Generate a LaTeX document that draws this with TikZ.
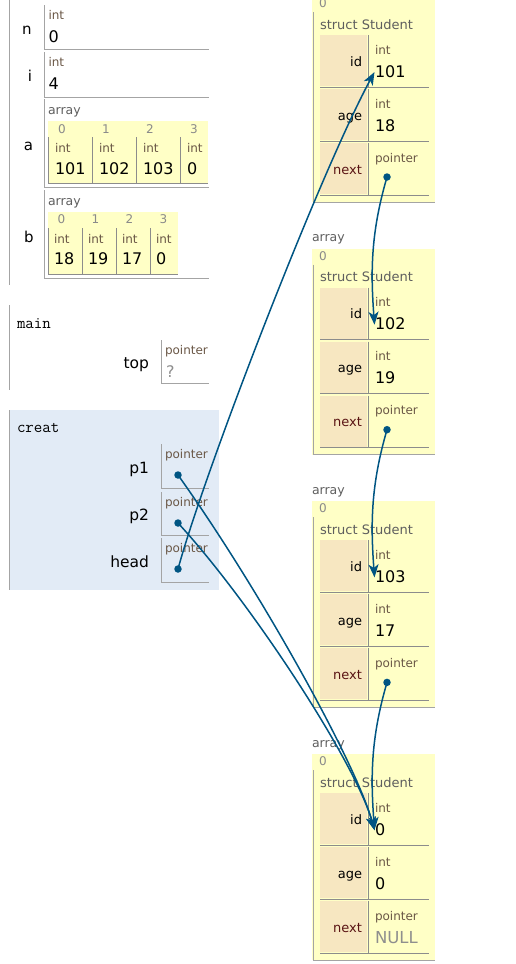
\documentclass[tikz,border=0pt]{standalone}
\usepackage{fontspec}
\setmainfont{DejaVu Sans}
\usetikzlibrary{arrows.meta}
\definecolor{ptrblue}{HTML}{005583}
\definecolor{heapyel}{HTML}{FFFFC6}
\definecolor{fieldtan}{HTML}{F7E7C1}
\definecolor{framebg}{HTML}{E2EBF6}
\definecolor{linegray}{HTML}{A4A4A4}
\definecolor{cellgray}{HTML}{8C8C8C}
\definecolor{typecol}{HTML}{6A5746}
\definecolor{labgray}{HTML}{5E5E5E}
\definecolor{idxcol}{HTML}{8A8A8A}
\definecolor{nextcol}{HTML}{5A1414}
\definecolor{nullgray}{HTML}{8E8E8E}
\tikzset{
  every node/.style={inner sep=0pt, outer sep=0pt},
  tlab/.style={anchor=base west, font=\fontsize{12}{14}\selectfont, text=typecol},
  arrlab/.style={anchor=base west, font=\fontsize{12.5}{14}\selectfont, text=labgray},
  val/.style={anchor=base west, font=\fontsize{16}{18}\selectfont},
  vname/.style={anchor=base east, font=\fontsize{15.5}{18}\selectfont},
  gname/.style={anchor=base, font=\fontsize{15}{18}\selectfont},
  idx/.style={anchor=base west, font=\fontsize{12}{13}\selectfont, text=idxcol},
  fname/.style={anchor=base east, font=\fontsize{13}{15}\selectfont},
  ftitle/.style={anchor=base west, font=\ttfamily\fontsize{16.5}{18}\selectfont},
  gline/.style={draw=linegray, line width=1pt},
  cline/.style={draw=cellgray, line width=1pt},
  ptr/.style={draw=ptrblue, line width=1.5pt, -{Stealth[length=13pt,width=10pt,inset=3.5pt]}},
  ptrdot/.style={circle, fill=ptrblue, minimum size=7.5pt, inner sep=0pt},
}
\begin{document}
\begin{tikzpicture}[x=1pt,y=-1pt]
\useasboundingbox (0,0) rectangle (515,964);

% ---------- global frame ----------
\draw[gline] (9.5,0) -- (9.5,285);
% n
\node[gname] (nN) at (27,34) {n};
\draw[gline] (44,5) -- (44,49) -- (209,49);
\node[tlab] (nT) at (48.5,19.5) {int};
\node[val] (nV) at (48.5,42.5) {0};
% i
\node[gname] (iN) at (30,81.5) {i};
\draw[gline] (44,52) -- (44,97) -- (209,97);
\node[tlab] (iT) at (48.5,66.5) {int};
\node[val] (iV) at (48.5,89.5) {4};
% a
\node[gname] (aN) at (28.5,150) {a};
\draw[gline] (44,99) -- (44,187) -- (209,187);
\node[arrlab] (aArr) at (48,114.5) {array};
\fill[heapyel] (48,121) rectangle (208,183);
\draw[cline] (48,137) -- (48,183) -- (208,183);
\foreach \x in {92,136,180} \draw[cline] (\x,137) -- (\x,183);
\foreach \i/\x/\v in {0/48/101,1/92/102,2/136/103,3/180/0}{
  \node[idx] (aI\i) at (\x+10,133) {\i};
  \node[tlab] (aT\i) at (\x+7,152) {int};
  \node[val] (aV\i) at (\x+7,174) {\v};
}
% b
\node[gname] (bN) at (29,242) {b};
\draw[gline] (44,190) -- (44,278) -- (209,278);
\node[arrlab] (bArr) at (48,205.5) {array};
\fill[heapyel] (48,212) rectangle (178,274);
\draw[cline] (48,228) -- (48,274) -- (178,274);
\foreach \x in {82,116,150} \draw[cline] (\x,228) -- (\x,274);
\foreach \i/\x/\v in {0/48/18,1/82/19,2/116/17,3/150/0}{
  \node[idx] (bI\i) at (\x+9.5,223.5) {\i};
  \node[tlab] (bT\i) at (\x+6,243) {int};
  \node[val] (bV\i) at (\x+6,264.5) {\v};
}

% ---------- main frame ----------
\draw[gline] (9.5,305) -- (9.5,390);
\node[ftitle] (mainT) at (17,328) {main};
\node[vname] (topN) at (149,368.5) {top};
\draw[gline] (161,340) -- (161,383) -- (209,383);
\node[tlab] (topT) at (165,354) {pointer};
\node[val, text=nullgray] (topV) at (166,377) {?};

% ---------- creat frame ----------
\fill[framebg] (9,410) rectangle (219,590);
\draw[gline] (9.5,410) -- (9.5,590);
\node[ftitle] (creatT) at (17,432) {creat};
\foreach \nm/\top/\bot in {p1/444/488, p2/492/535, head/538/582}{
  \node[vname] (\nm N) at (149,{(\top+\bot)/2+7}) {\nm};
  \draw[gline] (161,\top) -- (161,\bot) -- (209,\bot);
  \node[tlab] (\nm T) at (165,\top+14) {pointer};
  \node[ptrdot] (\nm D) at (178,\top+31) {};
}

% ---------- heap objects ----------
\foreach \k/\vid/\vage in {0/101/18, 1/102/19, 2/103/17, 3/0/0}{
  \pgfmathsetmacro\B{-4+252.7*\k}
  \fill[heapyel] (312,\B) rectangle (435,\B+206);
  \ifnum\k>0
    \node[arrlab] (arr\k) at (312,\B-7) {array};
  \fi
  \node[idx] (ix\k) at (319,\B+11.5) {0};
  \draw[gline] (313,\B+16) -- (313,\B+206) -- (435,\B+206);
  \node[arrlab, font=\fontsize{13}{15}\selectfont] (st\k) at (320,\B+33) {struct Student};
  \foreach \r in {0,1,2}{
    \pgfmathsetmacro\R{\B+39+54*\r}
    \fill[fieldtan] (320,\R) rectangle (367,\R+51);
    \draw[cline] (368,\R) -- (368,\R+52);
    \draw[cline] (320,\R+52) -- (429,\R+52);
  }
  \node[fname] (fid\k) at (362,\B+70) {id};
  \node[tlab] (tid\k) at (375,\B+58) {int};
  \node[val] (vid\k) at (375,\B+81) {\vid};
  \node[fname] (fage\k) at (362,\B+124) {age};
  \node[tlab] (tage\k) at (375,\B+112) {int};
  \node[val] (vage\k) at (375,\B+135) {\vage};
  \node[fname, text=nextcol] (fnext\k) at (362,\B+178) {next};
  \node[tlab] (tnext\k) at (375,\B+166) {pointer};
  \coordinate (tip\k) at (374.5,\B+76);
  \ifnum\k<3
    \node[ptrdot] (nx\k) at (387,\B+181) {};
  \else
    \node[val, text=nullgray, font=\fontsize{16.5}{18}\selectfont] (nullV) at (375,\B+189) {NULL};
  \fi
}

% ---------- pointers ----------
\draw[ptr] (nx0.center) .. controls +(-16,55) and +(-4,-55) .. (tip1);
\draw[ptr] (nx1.center) .. controls +(-16,55) and +(-4,-55) .. (tip2);
\draw[ptr] (nx2.center) .. controls +(-16,55) and +(-4,-55) .. (tip3);
\draw[ptr] (headD.center) .. controls +(27,-99) and +(-54,100) .. (tip0);
\draw[ptr] (p1D.center) .. controls +(82,115) and +(-19,-68) .. (tip3);
\draw[ptr] (p2D.center) .. controls +(72,78) and +(-19,-68) .. (tip3);
\end{tikzpicture}
\end{document}
